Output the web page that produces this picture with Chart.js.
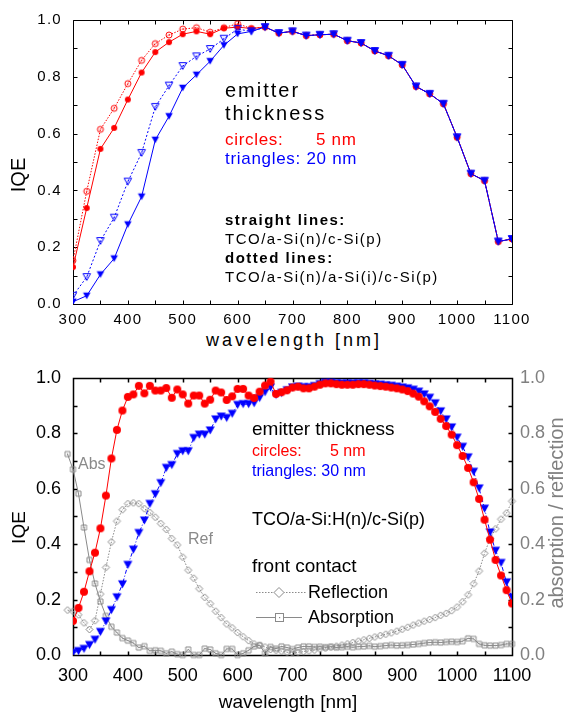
<!DOCTYPE html>
<html>
<head>
<meta charset="utf-8">
<script src="https://cdn.jsdelivr.net/npm/chart.js@4.4.1/dist/chart.umd.min.js"></script>
<style>
  body { margin: 0; background: #fff; }
  #wrap { position: relative; width: 564px; height: 716px; overflow: hidden; font-family: "Liberation Sans", Arial, sans-serif; }
  canvas { position: absolute; left: 0; }
  .t { position: absolute; line-height: 1; white-space: pre; color: #000; }
</style>
</head>
<body>
<div id="wrap">
  <canvas id="chart1" width="564" height="330" style="top:0"></canvas>
  <canvas id="chart2" width="564" height="340" style="top:355px"></canvas>
  <!-- legend samples for front contact -->
  <svg style="position:absolute;left:250px;top:580px" width="62" height="46">
    <line x1="6" y1="12.5" x2="56" y2="12.5" stroke="#8a8a8a" stroke-dasharray="1.5,1.5"/>
    <polygon points="29,7.5 34,12.5 29,17.5 24,12.5" fill="#fff" stroke="#8a8a8a"/>
    <line x1="6" y1="37.5" x2="52" y2="37.5" stroke="#8a8a8a"/>
    <rect x="25.5" y="33.5" width="8" height="8" fill="#fff" stroke="#8a8a8a"/>
    <rect x="29" y="37" width="1.2" height="1.2" fill="#8a8a8a"/>
  </svg>
</div>
<script>
// ---- top panel: IQE, 25 nm steps ----
const topWl = [300,325,350,375,400,425,450,475,500,525,550,575,600,625,650,675,700,725,750,775,800,825,850,875,900,925,950,975,1000,1025,1050,1075,1100];
const iqe5nmDotted    = [0.153,0.397,0.615,0.689,0.776,0.858,0.917,0.947,0.968,0.973,0.957,0.973,0.987,0.970,
                         0.975,0.954,0.960,0.945,0.948,0.950,0.927,0.919,0.891,0.874,0.842,0.766,0.740,0.705,0.587,0.459,0.434,0.220,0.229];
const iqe5nmStraight  = [0.130,0.338,0.546,0.620,0.720,0.815,0.887,0.922,0.950,0.960,0.950,0.971,0.975,0.970,
                         0.975,0.954,0.960,0.945,0.948,0.950,0.927,0.919,0.891,0.874,0.842,0.766,0.740,0.705,0.587,0.459,0.434,0.220,0.229];
const iqe20nmDotted   = [0.029,0.095,0.222,0.304,0.431,0.532,0.694,0.769,0.838,0.872,0.898,0.934,0.968,0.960,
                         0.975,0.954,0.960,0.945,0.948,0.950,0.927,0.919,0.891,0.874,0.842,0.766,0.740,0.705,0.587,0.459,0.434,0.220,0.229];
const iqe20nmStraight = [0.008,0.029,0.104,0.160,0.280,0.378,0.578,0.661,0.761,0.807,0.855,0.911,0.951,0.960,
                         0.975,0.954,0.960,0.945,0.948,0.950,0.927,0.919,0.891,0.874,0.842,0.766,0.740,0.705,0.587,0.459,0.434,0.220,0.229];

// ---- bottom panel: IQE + front contact, 10 nm steps ----
const wlIQE = [300,310,320,330,340,350,360,370,380,390,400,410,420,430,440,450,460,470,480,490,
               500,510,520,530,540,550,560,570,580,590,600,610,620,630,640,650,660,670,680,690,
               700,710,720,730,740,750,760,770,780,790,800,810,820,830,840,850,860,870,880,890,
               900,910,920,930,940,950,960,970,980,990,1000,1010,1020,1030,1040,1050,1060,1070,1080,1090,1100];
const iqe5nm = [0.123,0.170,0.228,0.302,0.369,0.457,0.575,0.709,0.812,0.882,
                0.931,0.940,0.971,0.944,0.971,0.954,0.954,0.963,0.928,0.958,
                0.940,0.907,0.936,0.936,0.907,0.921,0.954,0.947,0.920,0.933,
                0.960,0.960,0.936,0.927,0.950,0.972,0.986,0.942,0.948,0.955,
                0.965,0.968,0.962,0.962,0.968,0.975,0.980,0.980,0.977,0.975,
                0.975,0.975,0.977,0.977,0.975,0.972,0.970,0.968,0.965,0.962,
                0.958,0.952,0.943,0.932,0.915,0.897,0.877,0.852,0.826,0.795,
                0.757,0.718,0.675,0.623,0.563,0.488,0.416,0.343,0.287,0.234,
                0.186];
const iqe30nm = [0.008,0.014,0.022,0.036,0.055,0.083,0.121,0.162,0.208,0.255,
                 0.325,0.380,0.440,0.485,0.545,0.580,0.620,0.675,0.685,0.725,
                 0.735,0.735,0.783,0.795,0.795,0.810,0.850,0.860,0.855,0.870,
                 0.902,0.905,0.905,0.908,0.927,0.948,0.965,0.938,0.945,0.955,
                 0.965,0.968,0.966,0.966,0.970,0.977,0.982,0.982,0.980,0.979,
                 0.979,0.979,0.980,0.980,0.978,0.976,0.975,0.973,0.971,0.968,
                 0.965,0.962,0.957,0.950,0.940,0.928,0.908,0.879,0.850,0.821,
                 0.784,0.751,0.713,0.661,0.601,0.528,0.442,0.376,0.332,0.262,
                 0.208];
const wlRA = [290,300,310,320,330,340,350,360,370,380,390,400,410,420,430,440,450,460,470,480,490,
              500,510,520,530,540,550,560,570,580,590,600,610,620,630,640,650,660,670,680,690,
              700,710,720,730,740,750,760,770,780,790,800,810,820,830,840,850,860,870,880,890,
              900,910,920,930,940,950,960,970,980,990,1000,1010,1020,1030,1040,1050,1060,1070,1080,1090,1100,1110];
const reflection = [0.162,
                    0.158,0.145,0.116,0.092,0.124,0.220,0.316,0.408,0.483,0.524,
                    0.546,0.549,0.546,0.528,0.514,0.497,0.474,0.453,0.420,0.397,
                    0.353,0.306,0.277,0.239,0.208,0.185,0.158,0.135,0.112,0.098,
                    0.081,0.066,0.052,0.040,0.035,0.029,0.020,0.017,0.014,0.010,
                    0.008,0.010,0.012,0.015,0.018,0.022,0.025,0.028,0.032,0.036,
                    0.040,0.045,0.050,0.055,0.060,0.065,0.070,0.075,0.080,0.086,
                    0.093,0.100,0.108,0.115,0.122,0.128,0.135,0.143,0.150,0.160,
                    0.173,0.192,0.217,0.257,0.303,0.367,0.420,0.455,0.490,0.512,
                    0.555,0.486];
const absorption = [0.725,
                    0.670,0.582,0.460,0.343,0.258,0.193,0.141,0.102,0.081,0.061,
                    0.052,0.043,0.027,0.032,0.015,0.017,0.015,0.006,0.012,0.003,
                    0.000,0.020,0.000,0.000,0.023,0.020,0.006,0.000,0.022,0.022,
                    0.000,0.006,0.017,0.031,0.035,0.006,0.029,0.023,0.031,0.027,
                    0.021,0.027,0.031,0.031,0.029,0.030,0.028,0.030,0.027,0.028,
                    0.030,0.028,0.030,0.031,0.033,0.030,0.032,0.034,0.036,0.034,
                    0.035,0.036,0.038,0.040,0.043,0.045,0.046,0.045,0.047,0.048,
                    0.047,0.050,0.060,0.058,0.040,0.035,0.034,0.034,0.036,0.040,
                    0.040,0.047];

const FONT = '"Liberation Sans", Arial, sans-serif';
const RED = '#ff0000', BLUE = '#0000ff', GRAY = '#8a8a8a';

function pts(xs, ys) { return xs.map((x, i) => ({ x, y: ys[i] })); }

// small canvas markers (open symbols with a centre dot like the original plot)
function marker(shape, color, size, filled, dot) {
  const s = Math.ceil(size) + 4;
  const c = document.createElement('canvas');
  c.width = c.height = s;
  const g = c.getContext('2d');
  const m = s / 2, r = size / 2;
  g.strokeStyle = color;
  g.fillStyle = color;
  g.lineWidth = 1;
  g.beginPath();
  if (shape === 'circle') {
    g.arc(m, m, r, 0, Math.PI * 2);
  } else if (shape === 'tri') {
    const h = r * 0.9;
    g.moveTo(m - r, m - h);
    g.lineTo(m + r, m - h);
    g.lineTo(m, m + h);
    g.closePath();
  } else if (shape === 'diamond') {
    g.moveTo(m, m - r); g.lineTo(m + r, m); g.lineTo(m, m + r); g.lineTo(m - r, m);
    g.closePath();
  } else {
    g.rect(m - r, m - r, 2 * r, 2 * r);
  }
  if (filled) g.fill(); else g.stroke();
  if (dot) g.fillRect(m - 0.6, m - 0.6, 1.2, 1.2);
  return c;
}

// box frame with inward ticks on all four sides
const frameTicks = {
  id: 'frameTicks',
  beforeDatasetsDraw(chart, args, o) {
    const { ctx, chartArea: a } = chart;
    const xs = chart.scales.x, ys = chart.scales.y;
    const L = Math.round(a.left) + 0.5, R = Math.round(a.right) + 0.5;
    const T = Math.round(a.top) + 0.5, B = Math.round(a.bottom) + 0.5;
    ctx.save();
    ctx.strokeStyle = '#000';
    ctx.lineWidth = o.lineWidth;
    ctx.beginPath();
    ctx.rect(L, T, R - L, B - T);
    for (let i = 0; xs.min + i * o.xStep <= xs.max + 1e-6; i++) {
      const p = Math.round(xs.getPixelForValue(xs.min + i * o.xStep)) + 0.5;
      ctx.moveTo(p, B); ctx.lineTo(p, B - o.len);
      ctx.moveTo(p, T); ctx.lineTo(p, T + o.len);
    }
    for (let i = 0; ys.min + i * o.yStep <= ys.max + 1e-6; i++) {
      const p = Math.round(ys.getPixelForValue(ys.min + i * o.yStep)) + 0.5;
      ctx.moveTo(L, p); ctx.lineTo(L + o.len, p);
      ctx.moveTo(R, p); ctx.lineTo(R - o.len, p);
    }
    ctx.stroke();
    ctx.restore();
  }
};

// the top panel uses spaced-out lettering
const letterSpacing = {
  id: 'letterSpacing',
  beforeDraw(chart, args, o) { chart.ctx.letterSpacing = o.value || '0px'; }
};

const noGrid = { display: false, drawTicks: false };

new Chart(document.getElementById('chart1'), {
  type: 'line',
  data: {
    datasets: [
      { data: pts(topWl, iqe20nmDotted), borderColor: BLUE, borderWidth: 1, borderDash: [2, 2],
        pointStyle: marker('tri', BLUE, 7.5, false, true), pointRadius: 4 },
      { data: pts(topWl, iqe20nmStraight), borderColor: BLUE, borderWidth: 1,
        pointStyle: marker('tri', BLUE, 7.5, true, false), pointRadius: 4 },
      { data: pts(topWl, iqe5nmDotted), borderColor: RED, borderWidth: 1, borderDash: [1.5, 1.5],
        pointStyle: marker('circle', RED, 6, false, true), pointRadius: 4 },
      { data: pts(topWl, iqe5nmStraight), borderColor: RED, borderWidth: 1,
        pointStyle: marker('circle', RED, 6, true, false), pointRadius: 4 }
    ]
  },
  options: {
    responsive: false,
    animation: false,
    devicePixelRatio: 1,
    layout: { padding: { left: 0, right: 52, top: 15, bottom: 0 } },
    plugins: {
      legend: { display: false },
      tooltip: { enabled: false },
      frameTicks: { xStep: 50, yStep: 0.1, len: 4, lineWidth: 1 },
      letterSpacing: { value: '1.3px' }
    },
    scales: {
      x: {
        type: 'linear', min: 300, max: 1100,
        grid: noGrid, border: { display: false },
        ticks: { stepSize: 100, padding: 7, color: '#000', maxRotation: 0, autoSkip: false,
                 font: { family: FONT, size: 15 }, callback: v => String(v) },
        afterFit: s => { s.height = 26; }
      },
      y: {
        min: 0, max: 1,
        grid: noGrid, border: { display: false },
        ticks: { stepSize: 0.2, padding: 11, color: '#000', font: { family: FONT, size: 15 },
                 callback: v => v.toFixed(1) },
        afterFit: s => { s.width = 73; }
      }
    }
  },
  plugins: [frameTicks, letterSpacing]
});

new Chart(document.getElementById('chart2'), {
  type: 'line',
  data: {
    datasets: [
      { data: pts(wlIQE, iqe5nm), borderColor: RED, borderWidth: 1,
        pointStyle: marker('circle', RED, 8, true, false), pointRadius: 5 },
      { data: pts(wlIQE, iqe30nm), borderColor: BLUE, borderWidth: 1, borderDash: [4, 2, 1, 2],
        pointStyle: marker('tri', BLUE, 9, true, false), pointRadius: 5 },
      { data: pts(wlRA, reflection), borderColor: GRAY, borderWidth: 1, borderDash: [1.5, 1.5], clip: false,
        pointStyle: marker('diamond', GRAY, 7, false, false), pointRadius: 8, yAxisID: 'y2' },
      { data: pts(wlRA, absorption), borderColor: GRAY, borderWidth: 1, clip: false,
        pointStyle: marker('square', GRAY, 5, false, true), pointRadius: 8, yAxisID: 'y2' }
    ]
  },
  options: {
    responsive: false,
    animation: false,
    devicePixelRatio: 1,
    layout: { padding: { left: 0, right: 0, top: 12, bottom: 0 } },
    plugins: {
      legend: { display: false },
      tooltip: { enabled: false },
      frameTicks: { xStep: 50, yStep: 0.1, len: 4, lineWidth: 1.5 }
    },
    scales: {
      x: {
        type: 'linear', min: 300, max: 1100,
        grid: noGrid, border: { display: false },
        ticks: { stepSize: 100, padding: 10, color: '#000', maxRotation: 0, autoSkip: false,
                 font: { family: FONT, size: 18 }, callback: v => String(v) },
        afterFit: s => { s.height = 40; }
      },
      y: {
        min: 0, max: 1,
        grid: noGrid, border: { display: false },
        ticks: { stepSize: 0.2, padding: 12, color: '#000', font: { family: FONT, size: 18 },
                 callback: v => v.toFixed(1) },
        afterFit: s => { s.width = 73; }
      },
      y2: {
        position: 'right', min: 0, max: 1,
        grid: noGrid, border: { display: false },
        ticks: { stepSize: 0.2, padding: 8, color: '#808080', font: { family: FONT, size: 18 },
                 callback: v => v.toFixed(1) },
        afterFit: s => { s.width = 52; }
      }
    }
  },
  plugins: [frameTicks]
});

// ---- text annotations ----
const wrap = document.getElementById('wrap');
function addText(txt, x, baseline, size, o = {}) {
  const d = document.createElement('div');
  d.className = 't';
  d.textContent = txt;
  d.style.left = x + 'px';
  d.style.top = (baseline - 0.8465 * size) + 'px';
  d.style.fontSize = size + 'px';
  if (o.color) d.style.color = o.color;
  if (o.bold) d.style.fontWeight = 'bold';
  if (o.ls) d.style.letterSpacing = o.ls + 'px';
  if (o.center) { d.style.width = '400px'; d.style.marginLeft = '-200px'; d.style.textAlign = 'center'; }
  wrap.appendChild(d);
}
function addVText(txt, cx, cy, size, color) {
  const d = document.createElement('div');
  d.className = 't';
  d.textContent = txt;
  d.style.width = '300px';
  d.style.textAlign = 'center';
  d.style.left = (cx - 150) + 'px';
  d.style.top = (cy - size / 2) + 'px';
  d.style.fontSize = size + 'px';
  d.style.color = color || '#000';
  d.style.transform = 'rotate(-90deg)';
  wrap.appendChild(d);
}

// top panel
addVText('IQE', 18, 175, 20);
addText('wavelength [nm]', 294, 346, 18, { ls: 3, center: true });
addText('emitter', 225, 97, 20, { ls: 2 });
addText('thickness', 225, 120, 20, { ls: 2 });
addText('circles:', 225, 145, 17, { color: RED, ls: 0.7 });
addText('5 nm', 316, 145, 17, { color: RED, ls: 0.7 });
addText('triangles: 20 nm', 225, 164, 17, { color: BLUE, ls: 0.7 });
addText('straight lines:', 225, 225, 15, { bold: true, ls: 1.5 });
addText('TCO/a-Si(n)/c-Si(p)', 225, 244, 15, { ls: 1.5 });
addText('dotted lines:', 225, 263, 15, { bold: true, ls: 1.5 });
addText('TCO/a-Si(n)/a-Si(i)/c-Si(p)', 225, 282, 15, { ls: 1.5 });

// bottom panel
addVText('IQE', 18, 527, 19);
addVText('absorption / reflection', 556, 513, 20, '#808080');
addText('wavelength [nm]', 288, 708, 19, { center: true });
addText('emitter thickness', 252, 435, 19);
addText('circles:', 252, 457, 16, { color: RED });
addText('5 nm', 330, 457, 16, { color: RED });
addText('triangles: 30 nm', 252, 477, 16, { color: BLUE });
addText('TCO/a-Si:H(n)/c-Si(p)', 252, 525, 18);
addText('front contact', 252, 572, 19);
addText('Reflection', 308, 598, 18);
addText('Absorption', 308, 623, 18);
addText('Abs', 78, 470, 16, { color: GRAY });
addText('Ref', 188, 545, 16, { color: GRAY });
</script>
</body>
</html>
